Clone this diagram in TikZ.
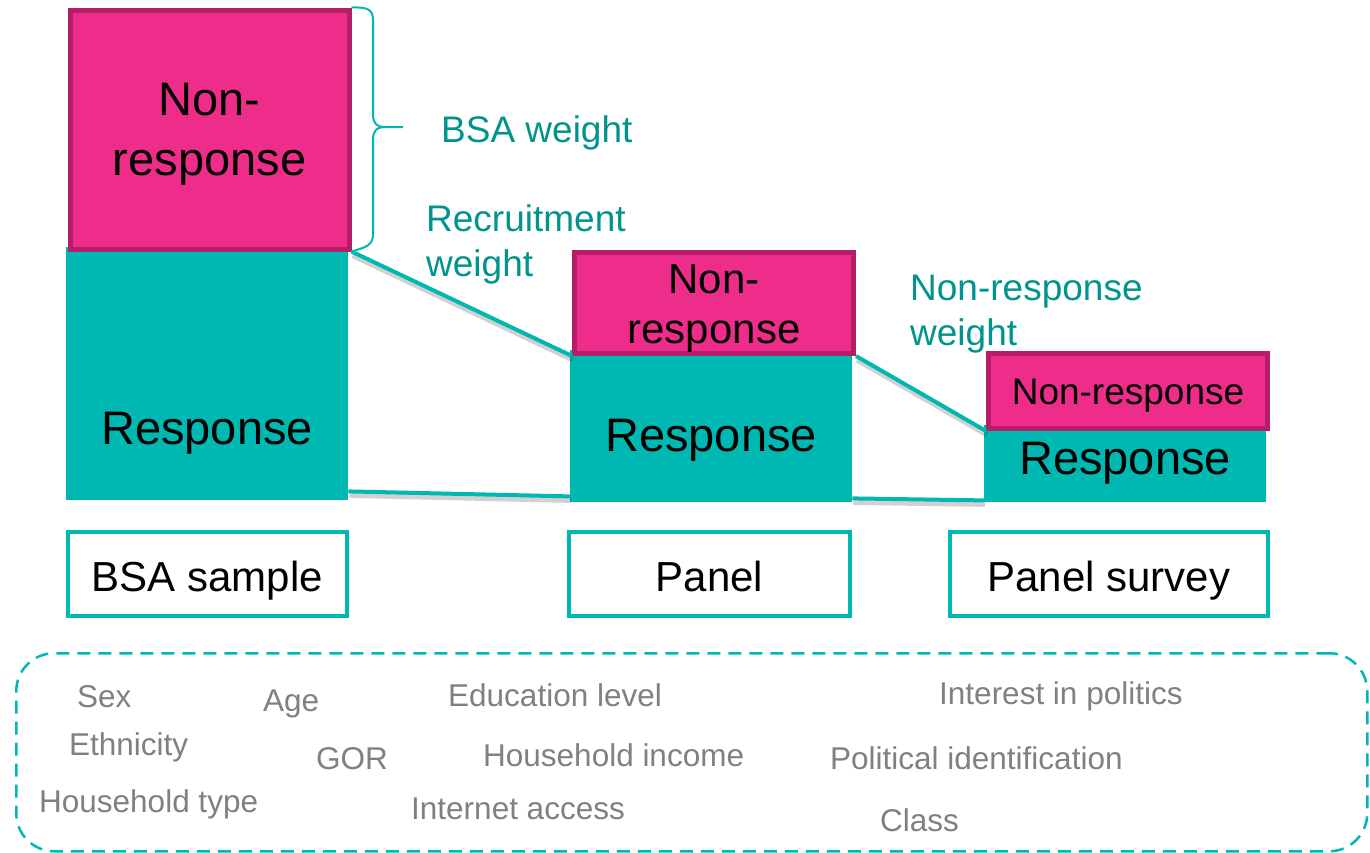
\documentclass[tikz,border=0pt]{standalone}
\usepackage{fontspec}
\setmainfont{Liberation Sans}
\usetikzlibrary{calc}
\definecolor{pinkfill}{HTML}{EE2D8A}
\definecolor{pinkedge}{HTML}{B31E66}
\definecolor{tealfill}{HTML}{00B8B2}
\definecolor{tealtext}{HTML}{00948D}
\definecolor{greytext}{HTML}{808080}
\tikzset{
  nrbox/.style={draw=pinkedge, fill=pinkfill, line width=5pt, inner sep=0pt},
  rbox/.style={fill=tealfill, inner sep=0pt},
  bigtext/.style={font=\fontsize{47}{60}\selectfont, text=black, inner sep=0pt, align=center, yshift=-4pt},
  labbox/.style={draw=tealfill, fill=white, line width=4.5pt, inner sep=0pt},
  labtext/.style={font=\fontsize{42}{48}\selectfont, inner sep=0pt, anchor=base, yshift=-17pt},
  wtext/.style={text=tealtext, font=\fontsize{37}{45}\selectfont, inner sep=0pt, align=left, anchor=west, yshift=-3pt},
  vtext/.style={text=greytext, font=\fontsize{31.5}{36}\selectfont, inner sep=0pt, anchor=west, yshift=-2pt},
  conn/.style={draw=tealfill, line width=4pt,
    preaction={draw=black, opacity=0.18, line width=5pt, transform canvas={shift={(1pt,-4pt)}}}},
  bracestyle/.style={draw=tealfill, line width=2pt},
  dashbox/.style={draw=tealfill, line width=2.5pt, dash pattern=on 13pt off 8pt, rounded corners=38pt}
}
\begin{document}
\begin{tikzpicture}[x=1pt,y=-1pt]
\useasboundingbox (0,0) rectangle (1370,852);
% Response boxes (drawn first)
\node[rbox, minimum width=282pt, minimum height=253pt, anchor=north west] (bsaR) at (66,247) {};
\node[rbox, minimum width=282pt, minimum height=152pt, anchor=north west] (panR) at (570,350) {};
\node[rbox, minimum width=282pt, minimum height=77pt, anchor=north west] (surR) at (984,425) {};
% Non-response boxes
\node[nrbox, minimum width=279pt, minimum height=239pt, anchor=north west] (bsaNR) at (67.5,7.5) {};
\node[nrbox, minimum width=279pt, minimum height=101pt, anchor=north west] (panNR) at (572,250) {};
\node[nrbox, minimum width=279pt, minimum height=75pt, anchor=north west] (surNR) at (986,351) {};
\node[bigtext, font=\fontsize{47}{60}\selectfont] (bsaNRt) at ([yshift=-1pt]bsaNR.center) {Non-\\response};
\node[bigtext, font=\fontsize{42}{50}\selectfont] (panNRt) at ([yshift=-1pt]panNR.center) {Non-\\response};
\node[bigtext, font=\fontsize{37}{44}\selectfont] (surNRt) at ([yshift=-1pt]surNR.center) {Non-response};
% Response texts
\node[bigtext] (bsaRt) at (207,429) {Response};
\node[bigtext] (panRt) at (711,436) {Response};
\node[bigtext] (surRt) at (1125,459) {Response};
% connectors
\coordinate (b1) at ($(bsaR.south east)+(0,-9)$);
\coordinate (p1) at ($(panR.south west)+(0,-6)$);
\coordinate (p2) at ($(panR.south east)+(0,-4)$);
\coordinate (s2) at ($(surR.south west)+(0,-2)$);
\draw[conn] (bsaNR.south east) -- (panNR.south west);
\draw[conn] (panNR.south east) -- (surNR.south west);
\draw[conn] (b1) -- (p1);
\draw[conn] (p2) -- (s2);
% brace
\coordinate (brT) at (bsaNR.north east);
\coordinate (brB) at (bsaNR.south east);
\coordinate (brTip) at (403,127);
\draw[bracestyle] (brT) .. controls (367,7) and (373,9) .. (373,20) -- (373,114)
  .. controls (373,123) and (376,127) .. (386,127) -- (brTip);
\draw[bracestyle] (386,127) .. controls (376,127) and (373,131) .. (373,140) -- (373,234)
  .. controls (373,245) and (367,247) .. (brB);
% weight labels
\node[wtext] (bsaw) at (441,130) {BSA weight};
\node[wtext] (recw) at (426,241) {Recruitment\\weight};
\node[wtext] (nrw) at (910,311) {Non-response\\weight};
% label boxes
\node[labbox, minimum width=279pt, minimum height=84pt] (lab1) at (207.5,574) {};
\node[labbox, minimum width=281pt, minimum height=84pt] (lab2) at (709.5,574) {};
\node[labbox, minimum width=318pt, minimum height=84pt] (lab3) at (1109,574) {};
\node[labtext] (lab1t) at (lab1.center) {BSA sample};
\node[labtext] (lab2t) at (lab2.center) {Panel};
\node[labtext] (lab3t) at (lab3.center) {Panel survey};
% dashed box
\node[dashbox, minimum width=1351pt, minimum height=198pt, anchor=north west] (vars) at (15,652) {};
% variables
\node[vtext] (v1) at (77,695) {Sex};
\node[vtext] (v2) at (263,702) {Age};
\node[vtext] (v3) at (448,693) {Education level};
\node[vtext] (v4) at (939,694) {Interest in politics};
\node[vtext] (v5) at (69,745) {Ethnicity};
\node[vtext] (v6) at (316,757) {GOR};
\node[vtext] (v7) at (483,753) {Household income};
\node[vtext] (v8) at (830,756) {Political identification};
\node[vtext] (v9) at (39,802) {Household type};
\node[vtext] (v10) at (411,807) {Internet access};
\node[vtext] (v11) at (880,818) {Class};
\end{tikzpicture}
\end{document}
